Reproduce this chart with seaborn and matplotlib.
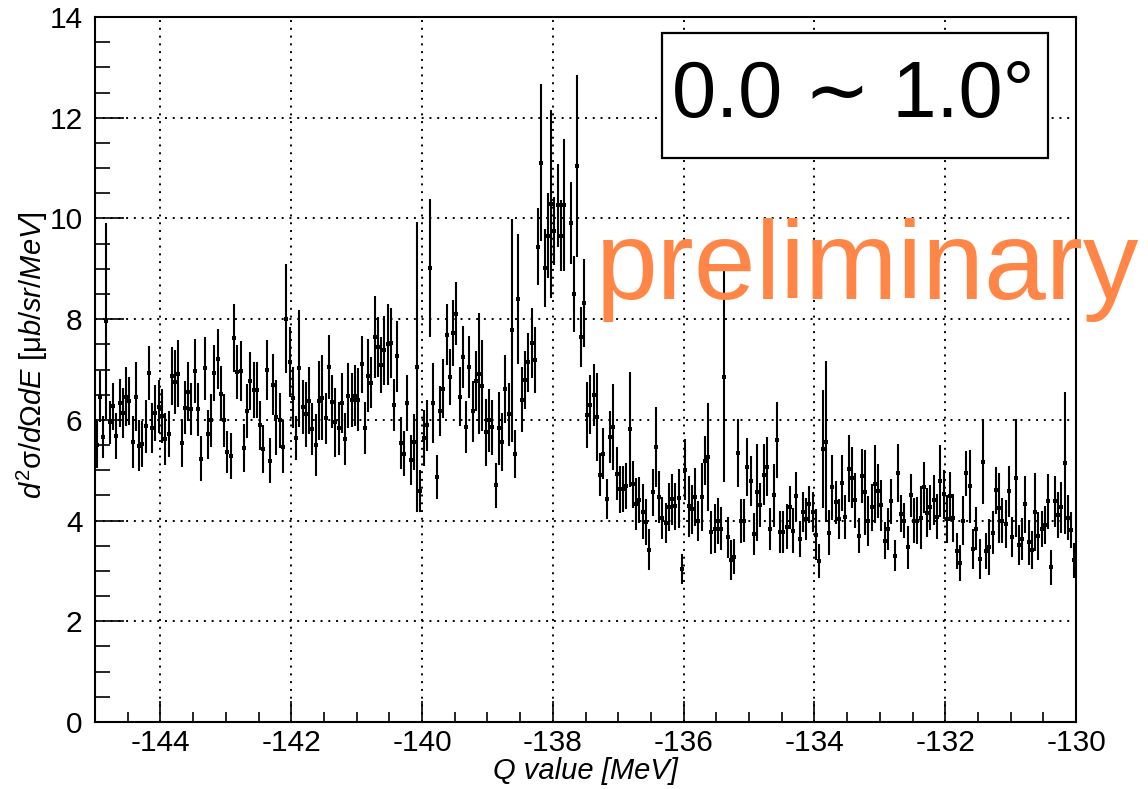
import numpy as np
import pandas as pd
import matplotlib
matplotlib.use("Agg")
import matplotlib.pyplot as plt
from matplotlib.patches import Rectangle
from matplotlib.ticker import MultipleLocator
import seaborn as sns

# Histogram binning of the Q-value spectrum
q_min, q_max, n_bins = -145.0, -130.0, 300

# Double-differential cross section per bin [ub/sr/MeV] (NaN = empty bin)
xsec = [
    5.51, 6.46, 5.66, 7.96, 5.95, 6.27, 5.68, 6.34, 6.13, 6.46,
    6.38, 5.56, 6.46, 5.49, 5.52, 5.87, 6.93, 5.84, 6.14, 6.26,
    6.08, 5.62, 5.72, 6.87, 6.75, 6.92, 5.54, 6.24, 6.56, 6.21,
    6.97, 6.21, 5.23, 7.02, 5.71, 5.99, 6.93, 7.21, 6.52, 5.99,
    5.36, 5.28, 7.63, 6.95, 6.97, 5.44, 6.18, 6.77, 6.59, 6.59,
    5.89, 5.42, 6.99, 5.19, 6.70, 6.05, 5.99, 5.47, 8.01, 7.15,
    6.44, 5.64, 7.02, 6.26, 6.11, 6.38, 5.82, 5.50, 6.38, 6.44,
    6.03, 7.05, 6.36, 5.95, 5.83, 6.33, 5.62, 6.48, 6.40, 6.48,
    6.40, 7.10, 5.84, 6.88, 6.74, 7.64, 7.45, 7.09, 7.38, 7.50,
    7.53, 6.29, 7.26, 5.54, 5.33, 6.34, 5.20, 5.56, 7.05, 4.59,
    5.64, 5.89, 9.01, 6.34, 4.87, 6.18, 6.62, 7.69, 6.85, 7.72,
    8.11, 6.46, 7.25, 5.86, 7.05, 6.17, 6.77, 6.92, 6.68, 5.75,
    5.99, 5.85, 4.70, 5.83, 5.56, 6.61, 6.11, 7.78, 5.32, 8.40,
    6.40, 6.79, 7.14, 7.53, 7.19, 9.44, 11.11, 9.02, 9.66, 10.28,
    9.75, 10.26, 9.66, 10.26, np.nan, 9.91, 8.50, 11.04, 7.65, 8.32,
    6.10, 6.30, 6.49, 6.06, 4.91, 5.33, 4.43, 5.66, 5.86, 4.93,
    4.62, 4.63, 4.68, 5.81, 4.72, 4.33, 4.41, 4.18, 3.97, 3.42,
    4.56, 5.46, 4.47, 4.05, 3.95, 4.27, 4.42, 4.28, 4.44, 3.04,
    5.01, 4.28, 4.22, 4.47, 3.99, 4.47, 5.19, 5.27, 3.77, 3.84,
    3.99, 3.84, 6.86, 3.67, 3.21, 3.28, 5.34, 3.99, 4.00, 5.06,
    4.78, 3.73, 4.56, 4.31, 4.91, 5.07, 3.83, 4.50, 5.60, 3.78,
    3.78, 3.88, 4.26, 3.80, 4.48, 3.64, 4.17, 4.03, 4.32, 4.17,
    3.72, 3.19, 5.42, 5.57, 3.76, 4.66, 4.36, 4.03, 4.75, 4.07,
    5.03, 4.85, 4.40, 3.70, 4.89, 4.56, 3.99, 4.26, 4.73, 4.59,
    4.30, 3.60, 3.83, 4.38, 3.30, 4.94, 4.14, 4.00, 3.47, 4.50,
    4.00, 4.00, 4.06, 4.66, 4.16, 4.26, 4.41, 4.08, 4.79, 4.52,
    4.03, 4.48, 4.05, 3.40, 3.16, 4.00, 4.94, 4.68, 3.44, 3.84,
    3.23, 5.17, 3.40, 3.48, 3.76, 4.60, 4.25, 4.00, 3.93, 4.58,
    3.68, 4.84, 3.52, 3.64, 4.32, 3.57, 3.42, 4.17, 3.70, 3.84,
    3.91, 4.38, 3.07, 4.38, 4.11, 4.26, 5.14, 4.06, 3.81, 3.21,
]

# Statistical uncertainty per bin
xsec_err = [
    0.46, 0.51, 0.41, 1.95, 0.43, 0.47, 0.45, 0.48, 0.50, 0.58,
    0.48, 0.51, 0.69, 0.50, 0.45, 0.53, 0.53, 0.50, 0.55, 0.53,
    0.53, 0.51, 0.45, 0.58, 0.63, 0.66, 0.48, 0.53, 0.58, 0.52,
    0.64, 0.53, 0.45, 0.62, 0.48, 0.53, 0.55, 0.60, 0.55, 0.53,
    0.42, 0.45, 0.67, 0.54, 0.60, 0.47, 0.54, 0.57, 0.56, 0.56,
    0.49, 0.48, 0.60, 0.44, 0.61, 0.74, 0.55, 0.52, 1.08, 0.70,
    0.60, 0.44, 1.17, 0.54, 0.65, 0.67, 0.52, 0.62, 0.78, 0.84,
    0.51, 0.63, 0.53, 0.68, 0.52, 0.60, 0.51, 0.65, 0.54, 0.61,
    0.63, 0.56, 0.51, 0.73, 0.51, 0.81, 0.60, 0.55, 0.69, 0.81,
    0.70, 0.52, 0.70, 0.52, 0.45, 0.56, 0.50, 0.55, 2.88, 0.41,
    0.55, 0.50, 1.37, 0.79, 0.44, 0.50, 0.58, 0.61, 0.55, 0.66,
    0.62, 0.58, 0.61, 0.52, 0.62, 0.60, 0.60, 1.20, 0.90, 0.67,
    0.63, 0.55, 0.45, 0.72, 0.58, 0.67, 0.63, 2.21, 0.47, 1.29,
    0.64, 0.57, 0.59, 0.70, 0.65, 0.77, 1.56, 0.78, 0.84, 1.87,
    0.68, 0.83, 0.71, 1.31, np.nan, 0.81, 0.75, 1.80, 0.60, 0.88,
    0.65, 0.59, 0.62, 0.88, 0.43, 0.51, 0.40, 0.52, 0.86, 0.53,
    0.46, 0.46, 0.46, 1.15, 0.47, 0.51, 0.45, 0.55, 0.45, 0.41,
    0.47, 0.80, 0.52, 0.42, 0.40, 0.47, 0.50, 0.46, 0.59, 0.30,
    0.60, 0.60, 0.49, 0.57, 0.40, 0.68, 0.49, 1.07, 0.43, 0.48,
    0.46, 0.43, 2.10, 0.41, 0.40, 0.35, 0.68, 0.44, 0.43, 0.58,
    0.50, 0.42, 0.97, 0.43, 0.61, 0.58, 0.41, 0.62, 0.76, 0.42,
    0.42, 0.44, 0.43, 0.44, 0.48, 0.36, 0.40, 0.41, 0.36, 0.39,
    0.51, 0.34, 1.18, 1.60, 0.45, 0.65, 0.42, 0.39, 0.56, 0.44,
    0.66, 0.61, 0.55, 0.35, 0.54, 0.85, 0.50, 0.46, 0.78, 0.54,
    0.51, 0.37, 0.42, 0.45, 0.31, 0.58, 0.36, 0.35, 0.43, 0.43,
    0.44, 0.47, 0.62, 0.51, 0.49, 0.44, 0.50, 0.45, 0.72, 0.49,
    0.47, 0.48, 0.48, 0.36, 0.36, 0.48, 0.45, 0.72, 0.40, 0.43,
    0.40, 0.84, 0.36, 0.56, 0.43, 0.46, 0.70, 0.44, 0.48, 0.50,
    0.40, 1.17, 0.40, 0.42, 0.57, 0.45, 0.38, 0.78, 0.48, 0.36,
    0.38, 0.55, 0.35, 0.51, 0.46, 0.50, 1.41, 0.44, 0.36, 0.35,
]

x_ticks = [-144, -142, -140, -138, -136, -134, -132, -130]
y_ticks = [0, 2, 4, 6, 8, 10, 12, 14]
x_title = "Q value [MeV]"
y_title = r"$d^{2}\mathrm{\sigma}/d\mathrm{\Omega}dE\ [\mathrm{\mu}b/sr/MeV]$"
angle_label = "0.0 \u223c 1.0\u00b0"
watermark = "preliminary"

edges = np.linspace(q_min, q_max, n_bins + 1)
centers = 0.5 * (edges[:-1] + edges[1:])
df = pd.DataFrame({"Q": centers, "xsec": xsec, "err": xsec_err})

sns.set_theme(style="white", rc={
    "axes.edgecolor": "black",
    "axes.unicode_minus": False,
    "mathtext.fontset": "custom",
    "mathtext.rm": "Liberation Sans",
    "mathtext.it": "Liberation Sans:italic",
    "mathtext.bf": "Liberation Sans:bold",
    "mathtext.sf": "Liberation Sans",
})
plt.rcParams["font.family"] = ["Liberation Sans", "DejaVu Sans"]

W, H = 1148, 789
fig = plt.figure(figsize=(W / 100, H / 100), dpi=100)
fig.patch.set_facecolor("white")
ax = fig.add_axes([95 / W, 1 - 722 / H, 981 / W, 705 / H])
ax.set_facecolor("white")

ax.errorbar(df["Q"], df["xsec"], yerr=df["err"], fmt="none",
            ecolor="black", elinewidth=1.5, capsize=0, zorder=3)
sns.scatterplot(data=df, x="Q", y="xsec", marker="s", s=6, color="black",
                linewidth=0, ax=ax, zorder=4, legend=False)

ax.set_xlim(q_min, q_max)
ax.set_ylim(0, 14)
ax.set_xticks(x_ticks)
ax.set_yticks(y_ticks)
ax.set_xticklabels([str(t) for t in x_ticks])
ax.set_yticklabels([str(t) for t in y_ticks])
ax.xaxis.set_minor_locator(MultipleLocator(0.5))
ax.yaxis.set_minor_locator(MultipleLocator(0.5))

ax.tick_params(which="both", direction="in", top=False, right=False,
               bottom=True, left=True, colors="black", width=1.2,
               labelsize=21.5)
ax.tick_params(axis="x", which="major", length=15, pad=5)
ax.tick_params(axis="x", which="minor", length=7.5)
ax.tick_params(axis="y", which="major", length=21, pad=9)
ax.tick_params(axis="y", which="minor", length=10.5)

ax.grid(True, which="major", color="black", linestyle=(0, (1, 3)), linewidth=1.4)
ax.grid(False, which="minor")
for sp in ax.spines.values():
    sp.set_visible(True)
    sp.set_color("black")
    sp.set_linewidth(1.5)

ax.set_xlabel(x_title, fontsize=21, fontstyle="italic", color="black")
ax.xaxis.set_label_coords(0.5, -0.05)
ax.set_ylabel(y_title, fontsize=21, color="black")
ax.yaxis.set_label_coords(-0.046, 0.52)

# Angular-range box
fig.patches.append(Rectangle((662 / W, 1 - 158 / H), 386 / W, 125 / H,
                             transform=fig.transFigure, facecolor="white",
                             edgecolor="black", linewidth=1.6, zorder=5))
fig.text(853 / W, 1 - 97 / H, angle_label, fontsize=57, color="black",
         ha="center", va="center", zorder=6)

fig.text(596 / W, 1 - 299 / H, watermark, fontsize=80, color="#ff8647",
         ha="left", va="baseline", zorder=6)

fig.savefig("out.png", dpi=100, facecolor="white")
